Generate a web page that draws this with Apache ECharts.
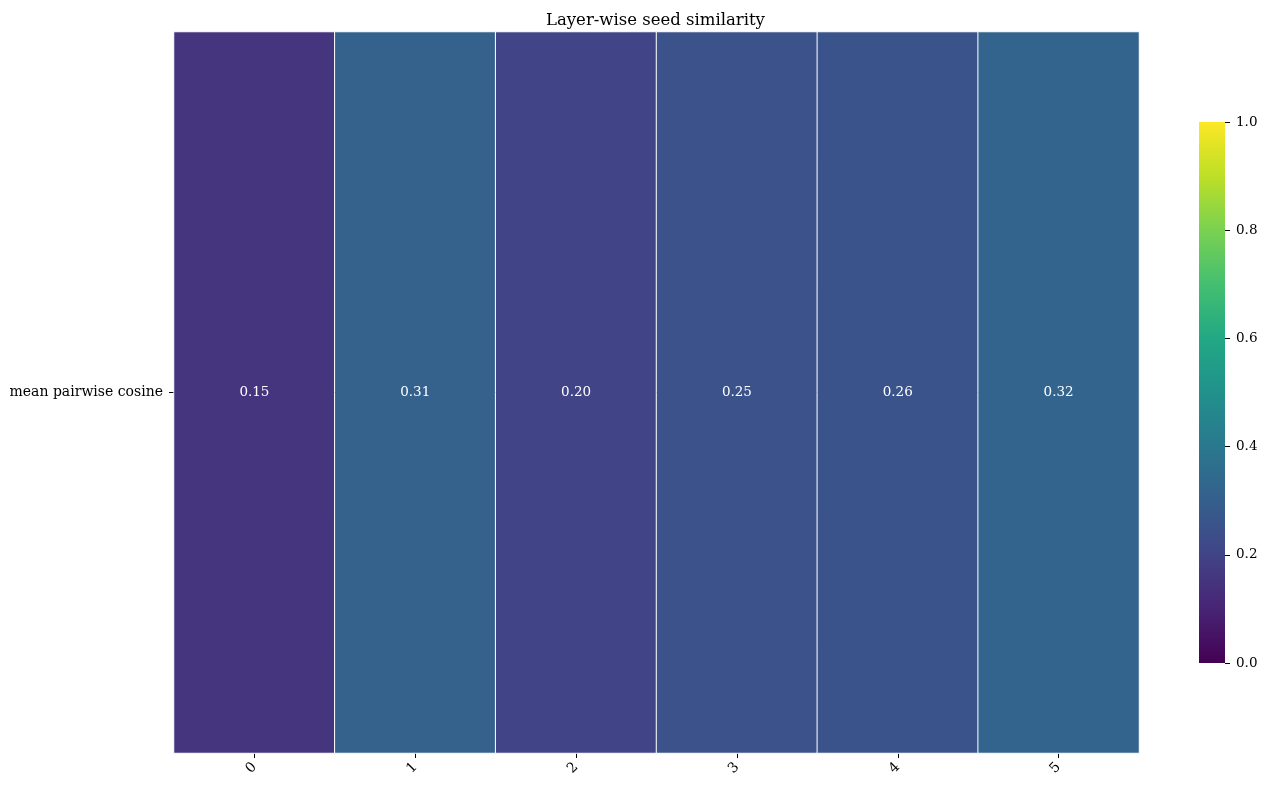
<!DOCTYPE html>
<html>
<head>
<meta charset="utf-8">
<script src="https://cdn.jsdelivr.net/npm/echarts@6/dist/echarts.min.js"></script>
<style>
  html, body { margin: 0; padding: 0; background: #fff; }
  #chart { width: 1267px; height: 790px; }
</style>
</head>
<body>
<div id="chart"></div>
<script>
// data
var layers = ['0', '1', '2', '3', '4', '5'];
var rows = ['mean pairwise cosine'];
var similarity = [0.15, 0.31, 0.20, 0.25, 0.26, 0.32];
var cbarTicks = [0.0, 0.2, 0.4, 0.6, 0.8, 1.0];

var viridis = ['#440154', '#482475', '#414487', '#355f8d', '#2a788e', '#21918c',
               '#22a884', '#44bf70', '#7ad151', '#bddf26', '#fde725'];

var cells = similarity.map(function (v, i) { return [i, 0, v]; });

var font = 'DejaVu Serif';
var myChart = echarts.init(document.getElementById('chart'));

var option = {
    animation: false,
    textStyle: { fontFamily: font },
    title: {
        text: 'Layer-wise seed similarity',
        left: 541, top: 7,
        textStyle: { fontFamily: font, fontSize: 16.5, fontWeight: 'normal', color: '#000' }
    },
    grid: [
        { left: 174, top: 32, width: 965, height: 721 },
        { left: 1199, top: 122, width: 26, height: 541 }
    ],
    xAxis: [
        {
            type: 'category', data: layers, gridIndex: 0,
            axisLine: { show: false },
            axisTick: { show: true, alignWithLabel: true, length: 5, lineStyle: { color: '#000' } },
            axisLabel: { rotate: 45, color: '#000', fontFamily: font, fontSize: 14, margin: 12 },
            splitLine: { show: false }
        },
        {
            type: 'category', data: ['c'], gridIndex: 1, show: false
        }
    ],
    yAxis: [
        {
            type: 'category', data: rows, gridIndex: 0,
            axisLine: { show: false },
            axisTick: { show: true, alignWithLabel: true, length: 5, lineStyle: { color: '#000' } },
            axisLabel: { color: '#000', fontFamily: font, fontSize: 14, margin: 11 },
            splitLine: { show: false }
        },
        {
            type: 'value', gridIndex: 1, position: 'right', min: 0, max: 1, interval: 0.2,
            axisLine: { show: false },
            axisTick: { show: true, length: 5, lineStyle: { color: '#000' } },
            axisLabel: {
                color: '#000', fontFamily: font, fontSize: 13.5, margin: 11,
                formatter: function (v) { return v.toFixed(1); }
            },
            splitLine: { show: false }
        }
    ],
    visualMap: {
        show: false, min: 0, max: 1, seriesIndex: 0,
        inRange: { color: viridis }
    },
    series: [
        {
            type: 'heatmap', xAxisIndex: 0, yAxisIndex: 0,
            data: cells,
            itemStyle: { borderColor: '#fff', borderWidth: 1 },
            label: {
                show: true, color: '#fff', fontFamily: font, fontSize: 13.5,
                formatter: function (p) { return p.value[2].toFixed(2); }
            }
        },
        {
            type: 'bar', xAxisIndex: 1, yAxisIndex: 1,
            data: [cbarTicks[cbarTicks.length - 1]],
            barWidth: '100%', silent: true,
            itemStyle: {
                color: new echarts.graphic.LinearGradient(0, 1, 0, 0,
                    viridis.map(function (c, i) { return { offset: i / (viridis.length - 1), color: c }; }))
            }
        }
    ]
};

myChart.setOption(option);
</script>
</body>
</html>
